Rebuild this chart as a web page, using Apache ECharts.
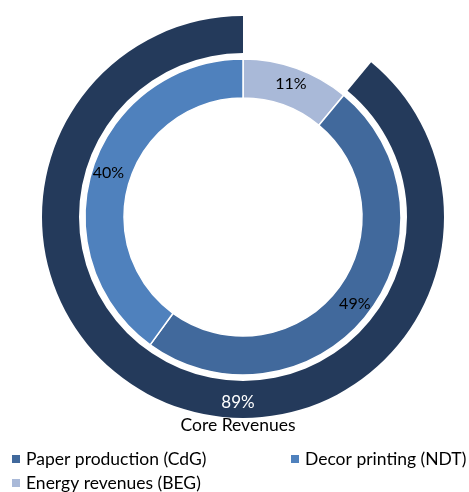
<!DOCTYPE html>
<html>
<head>
<meta charset="utf-8">
<script src="https://cdn.jsdelivr.net/npm/echarts@6/dist/echarts.min.js"></script>
<style>
  html, body { margin: 0; padding: 0; background: #fff; }
  #chart { width: 469px; height: 492px; }
</style>
</head>
<body>
<div id="chart"></div>
<script>
// Revenue split by business segment (inner ring), in percent
const segmentNames = ['Energy revenues (BEG)', 'Paper production (CdG)', 'Decor printing (NDT)'];
const segmentValues = [11, 49, 40];
const segmentColors = ['#a9b9d8', '#41699c', '#4f81bd'];

// Share of core revenues (outer ring), in percent
const coreName = 'Core Revenues';
const coreValue = 89;
const otherValue = 11;

// Legend columns
const legendLeftColumn = ['Paper production (CdG)', 'Energy revenues (BEG)'];
const legendRightColumn = ['Decor printing (NDT)'];

const FONT = 'Lato';

const chart = echarts.init(document.getElementById('chart'), null, { renderer: 'canvas' });

const innerData = segmentNames.map((n, i) => ({
  name: n,
  value: segmentValues[i],
  itemStyle: { color: segmentColors[i] }
}));

const outerData = [
  {
    name: '',
    value: otherValue,
    itemStyle: { color: 'rgba(0,0,0,0)', borderWidth: 0 },
    label: { show: false },
    emphasis: { disabled: true },
    tooltip: { show: false }
  },
  {
    name: coreName,
    value: coreValue,
    itemStyle: { color: '#243a5b', borderWidth: 0 }
  }
];

const legendBase = {
  orient: 'vertical',
  top: 450,
  itemWidth: 10,
  itemHeight: 10,
  itemGap: 6,
  icon: 'rect',
  padding: 0,
  selectedMode: false,
  textStyle: { fontFamily: FONT, fontSize: 17.5, lineHeight: 18, color: '#000' }
};

chart.setOption({
  animation: false,
  textStyle: { fontFamily: FONT },
  legend: [
    Object.assign({}, legendBase, { data: legendLeftColumn, left: 10 }),
    Object.assign({}, legendBase, { data: legendRightColumn, left: 289 })
  ],
  series: [
    {
      type: 'pie',
      name: 'Segments',
      center: [243, 217],
      radius: [119, 158],
      startAngle: 90,
      clockwise: true,
      avoidLabelOverlap: false,
      itemStyle: { borderColor: '#fff', borderWidth: 1.5 },
      label: {
        show: true,
        position: 'inside',
        formatter: p => p.value + '%',
        color: '#000',
        fontFamily: FONT,
        fontSize: 16
      },
      labelLine: { show: false },
      data: innerData
    },
    {
      type: 'pie',
      name: 'Core',
      center: [243, 217],
      radius: [164, 201],
      startAngle: 90,
      clockwise: true,
      avoidLabelOverlap: false,
      label: {
        show: true,
        position: 'inside',
        formatter: p => '{v|' + p.value + '%}\n{n|' + p.name + '}',
        rich: {
          v: { color: '#fff', fontFamily: FONT, fontSize: 17, lineHeight: 23, align: 'center' },
          n: { color: '#000', fontFamily: FONT, fontSize: 17.5, lineHeight: 23, align: 'center' }
        }
      },
      labelLayout: function (params) {
        if (params.dataIndex !== 1) return {};
        return { x: 238, y: 414, align: 'center', verticalAlign: 'middle' };
      },
      labelLine: { show: false },
      data: outerData
    }
  ]
});
</script>
</body>
</html>
